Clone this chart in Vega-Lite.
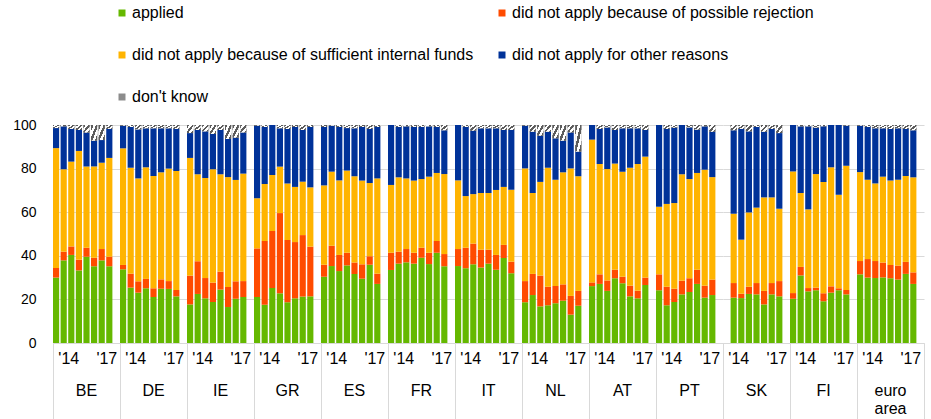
{
  "$schema": "https://vega.github.io/schema/vega-lite/v6.json",
  "padding": {"left": 12, "top": 5, "right": 8, "bottom": 0},
  "autosize": {"type": "pad"},
  "config": {
    "view": {"stroke": null},
    "font": "Liberation Sans",
    "axis": {"labelColor": "#000", "labelFont": "Liberation Sans"},
    "header": {"labelFont": "Liberation Sans", "labelColor": "#000"}
  },
  "data": {"values": [
    {"country":"BE","wave":"2013H2","a":30.0,"b":4.4,"c":55.0,"d":9.2,"e":1.4},
    {"country":"BE","wave":"2014H1","a":37.9,"b":4.0,"c":37.8,"d":19.7,"e":0.6},
    {"country":"BE","wave":"2014H2","a":40.4,"b":3.9,"c":38.9,"d":15.0,"e":1.8},
    {"country":"BE","wave":"2015H1","a":33.3,"b":4.9,"c":49.9,"d":9.6,"e":2.3},
    {"country":"BE","wave":"2015H2","a":39.6,"b":4.1,"c":37.3,"d":15.6,"e":3.4},
    {"country":"BE","wave":"2016H1","a":35.2,"b":3.9,"c":41.9,"d":11.8,"e":7.2},
    {"country":"BE","wave":"2016H2","a":37.9,"b":5.2,"c":39.6,"d":10.4,"e":6.9},
    {"country":"BE","wave":"2017H1","a":35.2,"b":4.4,"c":45.3,"d":13.3,"e":1.8},
    {"country":"DE","wave":"2013H2","a":33.8,"b":2.0,"c":53.5,"d":10.4,"e":0.3},
    {"country":"DE","wave":"2014H1","a":25.4,"b":6.4,"c":48.6,"d":18.7,"e":0.9},
    {"country":"DE","wave":"2014H2","a":23.1,"b":5.2,"c":47.2,"d":22.5,"e":2.0},
    {"country":"DE","wave":"2015H1","a":25.1,"b":4.3,"c":51.2,"d":17.9,"e":1.5},
    {"country":"DE","wave":"2015H2","a":21.1,"b":4.0,"c":51.5,"d":21.9,"e":1.5},
    {"country":"DE","wave":"2016H1","a":24.9,"b":4.3,"c":49.1,"d":20.2,"e":1.5},
    {"country":"DE","wave":"2016H2","a":24.8,"b":3.6,"c":51.6,"d":18.5,"e":1.5},
    {"country":"DE","wave":"2017H1","a":21.4,"b":2.9,"c":54.6,"d":19.3,"e":1.8},
    {"country":"IE","wave":"2013H2","a":17.7,"b":13.2,"c":54.0,"d":11.4,"e":3.7},
    {"country":"IE","wave":"2014H1","a":22.5,"b":15.0,"c":39.9,"d":20.3,"e":2.3},
    {"country":"IE","wave":"2014H2","a":20.5,"b":9.3,"c":45.9,"d":21.4,"e":2.9},
    {"country":"IE","wave":"2015H1","a":18.8,"b":8.9,"c":52.0,"d":16.2,"e":4.1},
    {"country":"IE","wave":"2015H2","a":24.5,"b":8.2,"c":44.7,"d":20.3,"e":2.3},
    {"country":"IE","wave":"2016H1","a":16.5,"b":9.2,"c":50.4,"d":17.5,"e":6.4},
    {"country":"IE","wave":"2016H2","a":20.3,"b":8.0,"c":46.5,"d":19.4,"e":5.8},
    {"country":"IE","wave":"2017H1","a":21.1,"b":7.3,"c":49.3,"d":18.9,"e":3.4},
    {"country":"GR","wave":"2013H2","a":21.1,"b":22.3,"c":23.0,"d":33.3,"e":0.3},
    {"country":"GR","wave":"2014H1","a":17.6,"b":29.2,"c":26.1,"d":26.2,"e":0.9},
    {"country":"GR","wave":"2014H2","a":25.2,"b":26.2,"c":25.7,"d":22.9,"e":0.0},
    {"country":"GR","wave":"2015H1","a":22.8,"b":36.8,"c":21.3,"d":17.6,"e":1.5},
    {"country":"GR","wave":"2015H2","a":18.7,"b":28.5,"c":26.0,"d":25.0,"e":1.8},
    {"country":"GR","wave":"2016H1","a":20.5,"b":25.8,"c":25.3,"d":27.5,"e":0.9},
    {"country":"GR","wave":"2016H2","a":21.3,"b":28.2,"c":24.5,"d":23.7,"e":2.3},
    {"country":"GR","wave":"2017H1","a":21.4,"b":22.8,"c":27.2,"d":27.7,"e":0.9},
    {"country":"ES","wave":"2013H2","a":30.4,"b":5.5,"c":36.4,"d":26.8,"e":0.9},
    {"country":"ES","wave":"2014H1","a":35.3,"b":9.3,"c":34.0,"d":21.1,"e":0.3},
    {"country":"ES","wave":"2014H2","a":33.0,"b":7.4,"c":34.2,"d":24.5,"e":0.9},
    {"country":"ES","wave":"2015H1","a":35.6,"b":5.8,"c":37.7,"d":19.5,"e":1.4},
    {"country":"ES","wave":"2015H2","a":31.7,"b":5.2,"c":39.6,"d":22.0,"e":1.5},
    {"country":"ES","wave":"2016H1","a":29.5,"b":6.6,"c":38.4,"d":24.6,"e":0.9},
    {"country":"ES","wave":"2016H2","a":35.9,"b":3.9,"c":33.6,"d":24.8,"e":1.8},
    {"country":"ES","wave":"2017H1","a":27.1,"b":4.7,"c":43.7,"d":23.6,"e":0.9},
    {"country":"FR","wave":"2013H2","a":33.5,"b":7.9,"c":31.1,"d":27.5,"e":0.0},
    {"country":"FR","wave":"2014H1","a":36.4,"b":5.5,"c":34.1,"d":23.1,"e":0.9},
    {"country":"FR","wave":"2014H2","a":37.0,"b":6.1,"c":32.4,"d":23.9,"e":0.6},
    {"country":"FR","wave":"2015H1","a":36.4,"b":5.0,"c":33.1,"d":24.6,"e":0.9},
    {"country":"FR","wave":"2015H2","a":39.1,"b":4.6,"c":31.5,"d":23.9,"e":0.9},
    {"country":"FR","wave":"2016H1","a":36.2,"b":5.2,"c":34.9,"d":23.1,"e":0.6},
    {"country":"FR","wave":"2016H2","a":41.4,"b":5.4,"c":31.2,"d":21.1,"e":0.9},
    {"country":"FR","wave":"2017H1","a":35.2,"b":5.6,"c":36.7,"d":20.1,"e":2.4},
    {"country":"IT","wave":"2013H2","a":35.3,"b":7.8,"c":31.5,"d":25.4,"e":0.0},
    {"country":"IT","wave":"2014H1","a":34.3,"b":9.4,"c":23.7,"d":31.7,"e":0.9},
    {"country":"IT","wave":"2014H2","a":36.1,"b":9.5,"c":22.7,"d":29.1,"e":2.6},
    {"country":"IT","wave":"2015H1","a":34.6,"b":8.2,"c":26.0,"d":29.7,"e":1.5},
    {"country":"IT","wave":"2015H2","a":36.4,"b":6.4,"c":26.0,"d":29.7,"e":1.5},
    {"country":"IT","wave":"2016H1","a":33.6,"b":6.8,"c":29.8,"d":28.3,"e":1.5},
    {"country":"IT","wave":"2016H2","a":39.0,"b":6.0,"c":26.6,"d":26.1,"e":2.3},
    {"country":"IT","wave":"2017H1","a":32.0,"b":5.3,"c":33.0,"d":27.4,"e":2.3},
    {"country":"NL","wave":"2013H2","a":18.7,"b":9.7,"c":51.7,"d":19.6,"e":0.3},
    {"country":"NL","wave":"2014H1","a":22.0,"b":9.7,"c":37.1,"d":28.1,"e":3.1},
    {"country":"NL","wave":"2014H2","a":16.8,"b":14.1,"c":43.0,"d":21.2,"e":4.9},
    {"country":"NL","wave":"2015H1","a":17.3,"b":8.5,"c":54.6,"d":16.5,"e":3.1},
    {"country":"NL","wave":"2015H2","a":18.2,"b":7.9,"c":48.8,"d":19.0,"e":6.1},
    {"country":"NL","wave":"2016H1","a":19.4,"b":7.5,"c":51.4,"d":14.5,"e":7.2},
    {"country":"NL","wave":"2016H2","a":13.0,"b":8.6,"c":58.5,"d":16.5,"e":3.4},
    {"country":"NL","wave":"2017H1","a":17.1,"b":6.8,"c":52.6,"d":11.3,"e":12.2},
    {"country":"AT","wave":"2013H2","a":26.1,"b":1.7,"c":65.5,"d":6.7,"e":0.0},
    {"country":"AT","wave":"2014H1","a":27.1,"b":4.4,"c":50.6,"d":16.1,"e":1.8},
    {"country":"AT","wave":"2014H2","a":23.9,"b":4.8,"c":51.1,"d":19.1,"e":1.1},
    {"country":"AT","wave":"2015H1","a":29.7,"b":3.9,"c":48.7,"d":15.4,"e":2.3},
    {"country":"AT","wave":"2015H2","a":27.4,"b":3.0,"c":48.2,"d":19.9,"e":1.5},
    {"country":"AT","wave":"2016H1","a":21.4,"b":4.9,"c":54.1,"d":18.1,"e":1.5},
    {"country":"AT","wave":"2016H2","a":20.5,"b":3.5,"c":58.1,"d":16.4,"e":1.5},
    {"country":"AT","wave":"2017H1","a":26.6,"b":3.4,"c":55.5,"d":12.2,"e":2.3},
    {"country":"PT","wave":"2013H2","a":24.2,"b":7.3,"c":31.0,"d":37.5,"e":0.0},
    {"country":"PT","wave":"2014H1","a":17.3,"b":8.5,"c":38.0,"d":34.4,"e":1.8},
    {"country":"PT","wave":"2014H2","a":18.8,"b":6.1,"c":39.3,"d":34.6,"e":1.2},
    {"country":"PT","wave":"2015H1","a":22.3,"b":6.3,"c":48.8,"d":22.6,"e":0.0},
    {"country":"PT","wave":"2015H2","a":23.4,"b":6.3,"c":45.5,"d":23.7,"e":1.1},
    {"country":"PT","wave":"2016H1","a":27.1,"b":6.5,"c":44.4,"d":19.9,"e":2.1},
    {"country":"PT","wave":"2016H2","a":20.8,"b":5.5,"c":53.2,"d":19.9,"e":0.6},
    {"country":"PT","wave":"2017H1","a":22.0,"b":7.1,"c":47.0,"d":20.8,"e":3.1},
    {"country":"SK","wave":"2014H1","a":20.8,"b":6.7,"c":31.8,"d":38.3,"e":2.4},
    {"country":"SK","wave":"2014H2","a":20.6,"b":2.0,"c":24.8,"d":50.8,"e":1.8},
    {"country":"SK","wave":"2015H1","a":22.5,"b":3.3,"c":34.1,"d":37.2,"e":2.9},
    {"country":"SK","wave":"2015H2","a":22.3,"b":5.2,"c":34.6,"d":37.0,"e":0.9},
    {"country":"SK","wave":"2016H1","a":17.7,"b":6.2,"c":42.9,"d":30.1,"e":3.1},
    {"country":"SK","wave":"2016H2","a":22.3,"b":5.2,"c":39.3,"d":31.4,"e":1.8},
    {"country":"SK","wave":"2017H1","a":21.4,"b":7.0,"c":33.2,"d":34.7,"e":3.7},
    {"country":"FI","wave":"2013H2","a":20.3,"b":2.6,"c":55.8,"d":21.3,"e":0.0},
    {"country":"FI","wave":"2014H1","a":31.0,"b":3.9,"c":33.9,"d":30.6,"e":0.6},
    {"country":"FI","wave":"2014H2","a":23.7,"b":1.5,"c":36.1,"d":38.1,"e":0.6},
    {"country":"FI","wave":"2015H1","a":24.2,"b":1.2,"c":52.1,"d":21.3,"e":1.2},
    {"country":"FI","wave":"2015H2","a":19.1,"b":3.7,"c":51.1,"d":25.5,"e":0.6},
    {"country":"FI","wave":"2016H1","a":23.1,"b":2.9,"c":54.6,"d":19.4,"e":0.0},
    {"country":"FI","wave":"2016H2","a":24.2,"b":0.9,"c":42.9,"d":32.0,"e":0.0},
    {"country":"FI","wave":"2017H1","a":22.3,"b":2.0,"c":57.0,"d":18.4,"e":0.3},
    {"country":"euro area","wave":"2013H2","a":31.5,"b":6.1,"c":40.8,"d":21.3,"e":0.3},
    {"country":"euro area","wave":"2014H1","a":30.0,"b":8.5,"c":36.4,"d":24.2,"e":0.9},
    {"country":"euro area","wave":"2014H2","a":29.8,"b":7.8,"c":35.6,"d":25.3,"e":1.5},
    {"country":"euro area","wave":"2015H1","a":30.1,"b":6.8,"c":39.4,"d":22.2,"e":1.5},
    {"country":"euro area","wave":"2015H2","a":29.7,"b":6.1,"c":38.7,"d":23.7,"e":1.8},
    {"country":"euro area","wave":"2016H1","a":29.1,"b":6.4,"c":39.4,"d":23.6,"e":1.5},
    {"country":"euro area","wave":"2016H2","a":31.7,"b":5.5,"c":39.4,"d":21.6,"e":1.8},
    {"country":"euro area","wave":"2017H1","a":27.1,"b":5.3,"c":43.6,"d":21.6,"e":2.4}
  ]},
  "transform": [
    {"fold": ["a", "b", "c", "d", "e"], "as": ["key", "value"]},
    {"stack": "value", "groupby": ["country", "wave"], "sort": [{"field": "key", "order": "ascending"}], "as": ["y0", "y1"]}
  ],
  "facet": {
    "column": {
      "field": "country",
      "type": "nominal",
      "sort": ["BE","DE","IE","GR","ES","FR","IT","NL","AT","PT","SK","FI","euro area"],
      "title": null,
      "header": {
        "labelOrient": "bottom",
        "labelFontSize": 16,
        "labelPadding": -37,
        "labelLineHeight": 18,
        "labelExpr": "datum.value == 'euro area' ? ['euro', 'area'] : datum.value"
      }
    }
  },
  "spacing": 0,
  "spec": {
    "width": 67,
    "height": 218,
    "encoding": {
      "x": {
        "field": "wave",
        "type": "ordinal",
        "title": null,
        "scale": {
          "domain": ["2013H2","2014H1","2014H2","2015H1","2015H2","2016H1","2016H2","2017H1","gap"],
          "paddingInner": 0.19,
          "paddingOuter": 0
        },
        "axis": {
          "bandPosition": 1,
          "tickExtra": true,
          "tickSize": 76,
          "tickColor": "#d9d9d9",
          "tickOpacity": {"condition": {"test": "datum.extra || datum.value == 'gap'", "value": 1}, "value": 0},
          "domainColor": "#d9d9d9",
          "labelAngle": 0,
          "labelFontSize": 16,
          "labelPadding": -69,
          "labelOffset": -2.5,
          "labelOverlap": false,
          "labelExpr": "datum.value == '2014H2' ? \"'14\" : datum.value == '2017H1' ? \"'17\" : ''"
        }
      },
      "y": {
        "field": "y0",
        "type": "quantitative",
        "title": null,
        "scale": {"domain": [0, 100], "nice": false},
        "axis": {
          "values": [0, 20, 40, 60, 80, 100],
          "domain": false,
          "ticks": false,
          "labelPadding": 17,
          "labelFontSize": 14,
          "gridColor": "#d9d9d9"
        }
      },
      "y2": {"field": "y1"}
    },
    "layer": [
      {
        "mark": {"type": "bar"},
        "encoding": {
          "color": {
            "field": "key",
            "type": "nominal",
            "scale": {
              "domain": ["a", "b", "c", "d", "e"],
              "range": ["#65b800", "#ff4b00", "#ffb400", "#003299", "#8c8c8c"]
            },
            "legend": {
              "orient": "none",
              "direction": "horizontal",
              "legendX": 61,
              "legendY": -120,
              "columns": 2,
              "columnPadding": 20,
              "rowPadding": 26,
              "symbolType": "square",
              "symbolSize": 49,
              "symbolStrokeWidth": 0,
              "labelFontSize": 16,
              "labelColor": "#000",
              "labelOffset": 2,
              "labelLimit": 500,
              "title": null,
              "labelExpr": "datum.label == 'a' ? 'applied' : datum.label == 'b' ? 'did not apply because of possible rejection' : datum.label == 'c' ? 'did not apply because of sufficient internal funds' : datum.label == 'd' ? 'did not apply for other reasons' : \"don't know\""
            }
          }
        }
      },
      {
        "transform": [{"filter": "datum.key == 'e'"}],
        "mark": {
          "type": "bar",
          "color": {
            "gradient": "linear",
            "x1": 0, "y1": 0, "x2": 1, "y2": 1,
            "stops": [
              {"offset": 0, "color": "#5c5c5c"},
              {"offset": 0.2, "color": "#5c5c5c"},
              {"offset": 0.2, "color": "#ffffff"},
              {"offset": 0.4, "color": "#ffffff"},
              {"offset": 0.4, "color": "#5c5c5c"},
              {"offset": 0.6, "color": "#5c5c5c"},
              {"offset": 0.6, "color": "#ffffff"},
              {"offset": 0.8, "color": "#ffffff"},
              {"offset": 0.8, "color": "#5c5c5c"},
              {"offset": 1, "color": "#5c5c5c"}
            ]
          }
        },
        "encoding": {}
      }
    ]
  }
}
